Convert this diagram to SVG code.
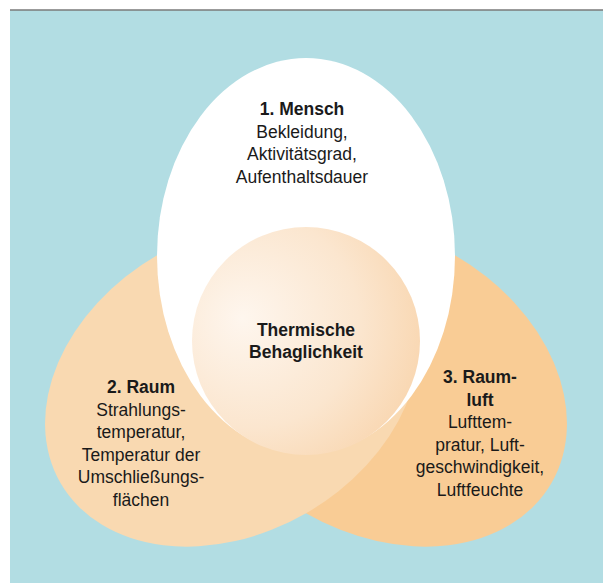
<svg xmlns="http://www.w3.org/2000/svg" width="603" height="583" viewBox="0 0 603 583">
  <defs>
    <radialGradient id="centerGrad" cx="0.3" cy="0.42" r="0.85" fx="0.22" fy="0.4">
      <stop offset="0" stop-color="#fef6ee"/>
      <stop offset="0.55" stop-color="#fbe6cf"/>
      <stop offset="1" stop-color="#f8d1a6"/>
    </radialGradient>
  </defs>
  <style>
    text { font-family: "Liberation Sans", Arial, sans-serif; font-size: 17.5px; fill: #1a1a1a; text-anchor: middle; }
    .h { font-weight: bold; }
  </style>
  <rect x="0" y="0" width="603" height="583" fill="#ffffff"/>
  <rect x="10" y="10" width="593" height="573" fill="#b2dde3"/>
  <line x1="10" y1="10" x2="603" y2="10" stroke="#7a7a7a" stroke-width="1.5"/>

  <g id="raumluft">
    <ellipse cx="0" cy="0" rx="198" ry="149" fill="#f9cc95" transform="translate(380,384) rotate(30)"/>
  </g>
  <g id="raum">
    <ellipse cx="0" cy="0" rx="198" ry="149" fill="#f9d9b1" transform="translate(232,384) rotate(-30)"/>
  </g>
  <g id="mensch">
    <ellipse cx="306" cy="256" rx="149" ry="198" fill="#ffffff"/>
  </g>
  <g id="behaglichkeit">
    <circle cx="306" cy="341" r="114" fill="url(#centerGrad)"/>
  </g>

  <g id="mensch-text">
    <text x="302" y="115" class="h">1. Mensch</text>
    <text x="302" y="137.5">Bekleidung,</text>
    <text x="302" y="160">Aktivitätsgrad,</text>
    <text x="302" y="182.5">Aufenthaltsdauer</text>
  </g>
  <g id="behaglichkeit-text">
    <text x="306" y="336" class="h">Thermische</text>
    <text x="306" y="358" class="h">Behaglichkeit</text>
  </g>
  <g id="raum-text">
    <text x="141" y="393" class="h">2. Raum</text>
    <text x="141" y="415.5">Strahlungs-</text>
    <text x="141" y="438">temperatur,</text>
    <text x="141" y="460.5">Temperatur der</text>
    <text x="141" y="483">Umschließungs-</text>
    <text x="141" y="505.5">flächen</text>
  </g>
  <g id="raumluft-text">
    <text x="480" y="383" class="h">3. Raum-</text>
    <text x="480" y="405.5" class="h">luft</text>
    <text x="480" y="428">Lufttem-</text>
    <text x="480" y="450.5">pratur, Luft-</text>
    <text x="480" y="473">geschwindigkeit,</text>
    <text x="480" y="495.5">Luftfeuchte</text>
  </g>
</svg>
